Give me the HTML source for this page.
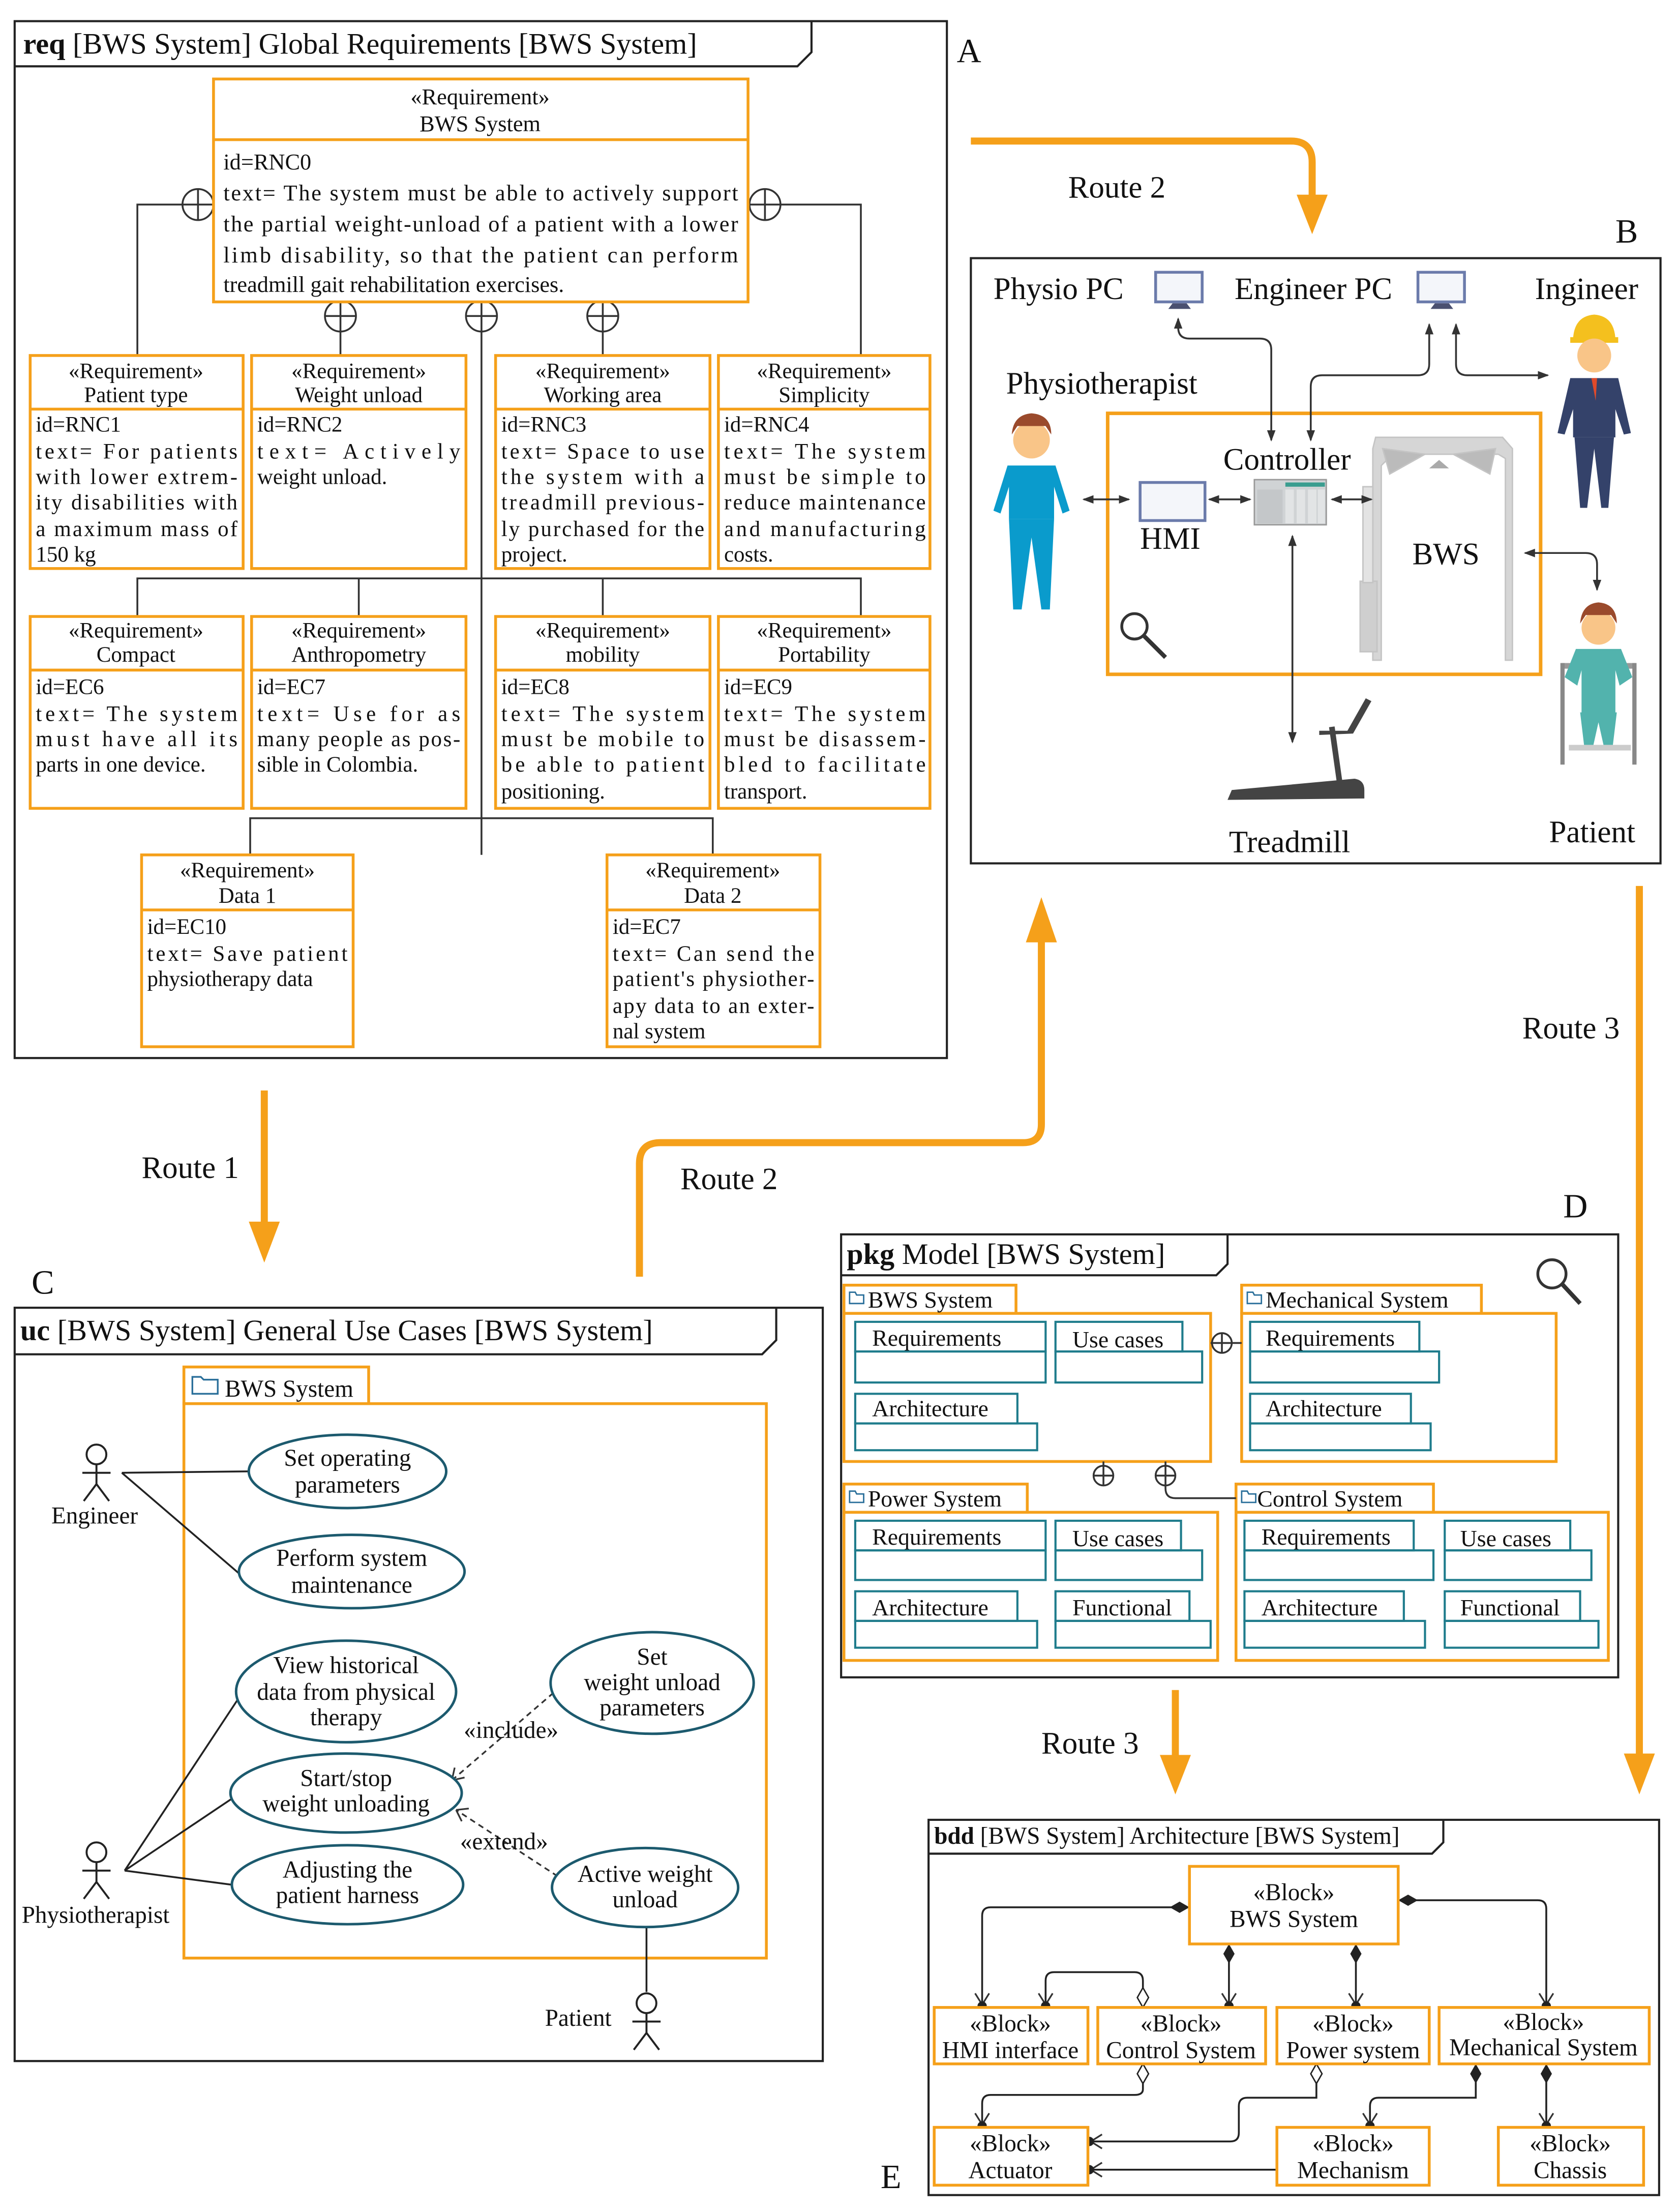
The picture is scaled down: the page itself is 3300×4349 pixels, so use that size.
<!DOCTYPE html>
<html><head><meta charset="utf-8"><style>
html,body{margin:0;padding:0;background:#fff;}
svg{display:block;}
text{font-family:"Liberation Serif",serif;fill:#111;}
</style></head><body>
<svg width="3300" height="4349" viewBox="0 0 1189 1568" xmlns="http://www.w3.org/2000/svg">
<defs>
<marker id="ab" markerWidth="8" markerHeight="8" refX="7" refY="4" orient="auto" markerUnits="userSpaceOnUse"><path d="M0,1 L8,4 L0,7 z" fill="#333"/></marker>
<marker id="as" markerWidth="8" markerHeight="8" refX="1" refY="4" orient="auto" markerUnits="userSpaceOnUse"><path d="M8,1 L0,4 L8,7 z" fill="#333"/></marker>
<marker id="ot" markerWidth="14" markerHeight="14" refX="12" refY="7" orient="auto" markerUnits="userSpaceOnUse"><path d="M2,2 L10,7 L2,12" fill="none" stroke="#333" stroke-width="1.2"/><circle cx="11" cy="7" r="3.3" fill="#222"/></marker>
<marker id="dfs" markerWidth="16" markerHeight="10" refX="1" refY="5" orient="auto" markerUnits="userSpaceOnUse"><path d="M1,5 L8,1 L15,5 L8,9 z" fill="#222"/></marker>
<marker id="dos" markerWidth="16" markerHeight="10" refX="1" refY="5" orient="auto" markerUnits="userSpaceOnUse"><path d="M1,5 L8,1 L15,5 L8,9 z" fill="#fff" stroke="#222" stroke-width="1"/></marker>
</defs>
<rect width="1189" height="1568" fill="#fff"/>

<!-- ================= PANEL A ================= -->
<g stroke="#222" fill="none" stroke-width="1.5">
<rect x="10" y="15" width="661" height="735"/>
<path d="M10,47 H565 L575,37 V15"/>
</g>
<text x="16" y="38" font-size="21"><tspan font-weight="bold">req</tspan> [BWS System] Global Requirements [BWS System]</text>
<text x="678" y="44" font-size="24">A</text>

<g stroke="#333" stroke-width="1.3" fill="none">
<path d="M129,145 H97 V252"/>
<path d="M553,145 H610 V252"/>
<path d="M241,235 V252"/>
<path d="M427,235 V252"/>
<path d="M341,235 V606"/>
<path d="M97,437 V410 H610 V437"/>
<path d="M254,410 V437"/>
<path d="M427,410 V437"/>
<path d="M177,606 V580 H505 V606"/>
</g>
<g stroke="#333" stroke-width="1.3" fill="#fff">
<circle cx="140" cy="145" r="11"/><path d="M129,145 H151 M140,134 V156"/>
<circle cx="542" cy="145" r="11"/><path d="M531,145 H553 M542,134 V156"/>
<circle cx="241" cy="224" r="11"/><path d="M230,224 H252 M241,213 V235"/>
<circle cx="341" cy="224" r="11"/><path d="M330,224 H352 M341,213 V235"/>
<circle cx="427" cy="224" r="11"/><path d="M416,224 H438 M427,213 V235"/>
</g>

<g stroke="#f5a01a" stroke-width="2" fill="#fff">
<rect x="151" y="56" width="379" height="158"/>
<rect x="21" y="252" width="151" height="151"/>
<rect x="178" y="252" width="152" height="151"/>
<rect x="351" y="252" width="152" height="151"/>
<rect x="509" y="252" width="150" height="151"/>
<rect x="21" y="437" width="151" height="136"/>
<rect x="178" y="437" width="152" height="136"/>
<rect x="351" y="437" width="152" height="136"/>
<rect x="509" y="437" width="150" height="136"/>
<rect x="100" y="606" width="150" height="136"/>
<rect x="430" y="606" width="151" height="136"/>
</g>
<g stroke="#f5a01a" stroke-width="2">
<path d="M151,99 H530"/>
<path d="M21,290 H172 M178,290 H330 M351,290 H503 M509,290 H659"/>
<path d="M21,475 H172 M178,475 H330 M351,475 H503 M509,475 H659"/>
<path d="M100,645 H250 M430,645 H581"/>
</g>
<g font-size="16" text-anchor="middle">
<text x="340" y="74">«Requirement»</text><text x="340" y="93">BWS System</text>
</g>
<g font-size="16">
<text x="158" y="120">id=RNC0</text>
<text x="158" y="142" textLength="365" lengthAdjust="spacing">text= The system must be able to actively support</text>
<text x="158" y="164" textLength="365" lengthAdjust="spacing">the partial weight-unload of a patient with a lower</text>
<text x="158" y="186" textLength="365" lengthAdjust="spacing">limb disability, so that the patient can perform</text>
<text x="158" y="207">treadmill gait rehabilitation exercises.</text>
</g>
<g font-size="15.5" text-anchor="middle">
<text x="96" y="268">«Requirement»</text><text x="96" y="285">Patient type</text>
<text x="254" y="268">«Requirement»</text><text x="254" y="285">Weight unload</text>
<text x="427" y="268">«Requirement»</text><text x="427" y="285">Working area</text>
<text x="584" y="268">«Requirement»</text><text x="584" y="285">Simplicity</text>
<text x="96" y="452">«Requirement»</text><text x="96" y="469">Compact</text>
<text x="254" y="452">«Requirement»</text><text x="254" y="469">Anthropometry</text>
<text x="427" y="452">«Requirement»</text><text x="427" y="469">mobility</text>
<text x="584" y="452">«Requirement»</text><text x="584" y="469">Portability</text>
<text x="175" y="622">«Requirement»</text><text x="175" y="640">Data 1</text>
<text x="505" y="622">«Requirement»</text><text x="505" y="640">Data 2</text>
</g>
<g font-size="15.5">
<text x="25" y="306">id=RNC1</text>
<text x="25" y="325" textLength="143" lengthAdjust="spacing">text= For patients</text>
<text x="25" y="343" textLength="143" lengthAdjust="spacing">with lower extrem-</text>
<text x="25" y="361" textLength="143" lengthAdjust="spacing">ity disabilities with</text>
<text x="25" y="380" textLength="143" lengthAdjust="spacing">a maximum mass of</text>
<text x="25" y="398">150 kg</text>

<text x="182" y="306">id=RNC2</text>
<text x="182" y="325" textLength="144" lengthAdjust="spacing">text=      Actively</text>
<text x="182" y="343">weight unload.</text>

<text x="355" y="306">id=RNC3</text>
<text x="355" y="325" textLength="144" lengthAdjust="spacing">text= Space to use</text>
<text x="355" y="343" textLength="144" lengthAdjust="spacing">the system with a</text>
<text x="355" y="361" textLength="144" lengthAdjust="spacing">treadmill previous-</text>
<text x="355" y="380" textLength="144" lengthAdjust="spacing">ly purchased for the</text>
<text x="355" y="398">project.</text>

<text x="513" y="306">id=RNC4</text>
<text x="513" y="325" textLength="143" lengthAdjust="spacing">text= The system</text>
<text x="513" y="343" textLength="143" lengthAdjust="spacing">must be simple to</text>
<text x="513" y="361" textLength="143" lengthAdjust="spacing">reduce maintenance</text>
<text x="513" y="380" textLength="143" lengthAdjust="spacing">and manufacturing</text>
<text x="513" y="398">costs.</text>

<text x="25" y="492">id=EC6</text>
<text x="25" y="511" textLength="143" lengthAdjust="spacing">text= The system</text>
<text x="25" y="529" textLength="143" lengthAdjust="spacing">must have all its</text>
<text x="25" y="547">parts in one device.</text>

<text x="182" y="492">id=EC7</text>
<text x="182" y="511" textLength="144" lengthAdjust="spacing">text= Use for as</text>
<text x="182" y="529" textLength="144" lengthAdjust="spacing">many people as pos-</text>
<text x="182" y="547">sible in Colombia.</text>

<text x="355" y="492">id=EC8</text>
<text x="355" y="511" textLength="144" lengthAdjust="spacing">text= The system</text>
<text x="355" y="529" textLength="144" lengthAdjust="spacing">must be mobile to</text>
<text x="355" y="547" textLength="144" lengthAdjust="spacing">be able to patient</text>
<text x="355" y="566">positioning.</text>

<text x="513" y="492">id=EC9</text>
<text x="513" y="511" textLength="143" lengthAdjust="spacing">text= The system</text>
<text x="513" y="529" textLength="143" lengthAdjust="spacing">must be disassem-</text>
<text x="513" y="547" textLength="143" lengthAdjust="spacing">bled to facilitate</text>
<text x="513" y="566">transport.</text>

<text x="104" y="662">id=EC10</text>
<text x="104" y="681" textLength="142" lengthAdjust="spacing">text= Save patient</text>
<text x="104" y="699">physiotherapy data</text>

<text x="434" y="662">id=EC7</text>
<text x="434" y="681" textLength="143" lengthAdjust="spacing">text= Can send the</text>
<text x="434" y="699" textLength="143" lengthAdjust="spacing">patient's physiother-</text>
<text x="434" y="718" textLength="143" lengthAdjust="spacing">apy data to an exter-</text>
<text x="434" y="736">nal system</text>
</g>

<!-- ================= ROUTES ================= -->
<g stroke="#f5a01a" stroke-width="5" fill="none">
<path d="M688,100 H915 Q930,100 930,115 V142"/>
<path d="M1162,628 V1245"/>
<path d="M187,773 V870"/>
<path d="M453,905 V825 Q453,810 468,810 H725 Q738,810 738,797 V665"/>
<path d="M833,1198 V1248"/>
</g>
<g fill="#f5a01a">
<path d="M919,138 L941,138 L930,166 z"/>
<path d="M1151,1243 L1173,1243 L1162,1272 z"/>
<path d="M176,866 L198,866 L187,895 z"/>
<path d="M727,668 L749,668 L738,636 z"/>
<path d="M822,1244 L844,1244 L833,1272 z"/>
</g>
<g font-size="22">
<text x="757" y="140">Route 2</text>
<text x="1079" y="736">Route 3</text>
<text x="100" y="835">Route 1</text>
<text x="482" y="843">Route 2</text>
<text x="738" y="1243">Route 3</text>
</g>

<!-- ================= PANEL B ================= -->
<rect x="688" y="183" width="489" height="429" fill="none" stroke="#222" stroke-width="1.5"/>
<text x="1145" y="172" font-size="24">B</text>
<rect x="785" y="293" width="307" height="185" fill="none" stroke="#f5a01a" stroke-width="2.5"/>
<g font-size="22">
<text x="704" y="212">Physio PC</text>
<text x="875" y="212">Engineer PC</text>
<text x="1088" y="212">Ingineer</text>
<text x="713" y="279">Physiotherapist</text>
<text x="867" y="333">Controller</text>
<text x="808" y="389">HMI</text>
<text x="1001" y="400">BWS</text>
<text x="871" y="604">Treadmill</text>
<text x="1098" y="597">Patient</text>
</g>
<!-- monitors -->
<g>
<rect x="819" y="193" width="33" height="21" fill="#f4f6fa" stroke="#6b7bab" stroke-width="2"/>
<path d="M831,215 h10 l3,4 h-16 z" fill="#4a5070"/>
<rect x="1005" y="193" width="33" height="21" fill="#f4f6fa" stroke="#6b7bab" stroke-width="2"/>
<path d="M1017,215 h10 l3,4 h-16 z" fill="#4a5070"/>
<rect x="808" y="342" width="46" height="27" fill="#f4f6fa" stroke="#6b7bab" stroke-width="2"/>
</g>
<!-- controller -->
<g>
<rect x="889" y="340" width="51" height="32" fill="#d0d3d5" stroke="#999"/>
<rect x="891" y="347" width="18" height="24" fill="#c4c7c9"/>
<rect x="911" y="347" width="6" height="24" fill="#e2e4e5"/><rect x="919" y="347" width="6" height="24" fill="#e2e4e5"/><rect x="927" y="347" width="6" height="24" fill="#e2e4e5"/><rect x="934" y="347" width="5" height="24" fill="#e2e4e5"/>
<rect x="911" y="342" width="28" height="3" fill="#3a9d8f"/>
</g>
<!-- BWS frame -->
<g fill="#d6d6d6" stroke="#c4c4c4">
<path d="M975,310 H1065 L1072,318 V468 H1067 V325 L1062,322 H987 L979,330 V468 H973 V318 z"/>
<path d="M980,318 L1010,322 L985,336 z" fill="#bbb"/>
<path d="M1060,318 L1030,322 L1056,336 z" fill="#bbb"/>
<rect x="964" y="412" width="12" height="50" fill="#cfcfcf"/>
<rect x="966" y="345" width="7" height="68" fill="#e3e3e3"/>
</g>
<path d="M1013,332 L1020,326 L1027,332 z" fill="#aaa"/>
<!-- treadmill -->
<g fill="#444">
<path d="M870,567 L873,560 L960,552 Q967,553 967,560 L967,566 z"/>
<rect x="945" y="515" width="4" height="44" transform="rotate(-8 947 537)"/>
<path d="M935,518 L955,518 L968,495 L972,497 L959,520 L935,521 z"/>
</g>
<!-- physiotherapist -->
<g>
<circle cx="731" cy="312" r="13" fill="#f9c588"/>
<path d="M717,308 Q718,294 731,293 Q745,294 745,308 L741,302 L721,302 z" fill="#9a4a2c"/>
<path d="M714,330 H748 L758,362 L753,364 L747,345 V368 H715 V345 L709,364 L704,362 z" fill="#0a9bcc"/>
<path d="M715,368 H747 L744,432 H738 L731,381 L724,432 H718 z" fill="#0a9bcc"/>
</g>
<!-- engineer -->
<g>
<path d="M1115,240 Q1116,224 1130,223 Q1144,224 1145,240 z" fill="#f4c01e"/>
<rect x="1113" y="239" width="34" height="4" fill="#f4c01e"/>
<circle cx="1130" cy="252" r="12" fill="#f9c588"/>
<path d="M1113,268 H1147 L1156,307 L1151,308 L1145,290 V310 H1115 V290 L1109,308 L1104,307 z" fill="#34426a"/>
<path d="M1128,268 L1132,268 L1131,284 z" fill="#e04a2a"/>
<path d="M1116,310 H1144 L1140,360 H1135 L1130,318 L1125,360 H1120 z" fill="#34426a"/>
</g>
<!-- patient -->
<g>
<circle cx="1133" cy="445" r="12" fill="#f9c588"/>
<path d="M1120,442 Q1121,428 1133,427 Q1146,428 1146,442 L1142,436 L1124,436 z" fill="#9a4a2c"/>
<rect x="1107" y="470" width="52" height="4" fill="#999"/>
<rect x="1106" y="470" width="3" height="72" fill="#888"/>
<rect x="1157" y="470" width="3" height="72" fill="#888"/>
<path d="M1117,460 H1149 L1157,480 L1148,486 L1145,475 V510 H1121 V475 L1118,486 L1109,480 z" fill="#52b3ad"/>
<path d="M1120,505 H1146 L1143,530 H1137 L1133,512 L1129,530 H1123 z" fill="#52b3ad"/>
<rect x="1112" y="528" width="44" height="4" fill="#ccc"/>
</g>
<!-- magnifier -->
<g fill="none" stroke="#333" stroke-width="2"><circle cx="804" cy="444" r="9"/><path d="M811,451 L826,466" stroke-width="3"/></g>
<!-- B arrows -->
<g stroke="#333" stroke-width="1.3" fill="none">
<path d="M835,226 V232 Q835,240 843,240 H893 Q901,240 901,248 V312" marker-start="url(#as)" marker-end="url(#ab)"/>
<path d="M1013,230 V258 Q1013,266 1005,266 H937 Q929,266 929,274 V312" marker-start="url(#as)" marker-end="url(#ab)"/>
<path d="M1032,230 V258 Q1032,266 1040,266 H1097" marker-start="url(#as)" marker-end="url(#ab)"/>
<path d="M768,354 H800" marker-start="url(#as)" marker-end="url(#ab)"/>
<path d="M857,354 H886" marker-start="url(#as)" marker-end="url(#ab)"/>
<path d="M944,354 H972" marker-start="url(#as)" marker-end="url(#ab)"/>
<path d="M916,380 V526" marker-start="url(#as)" marker-end="url(#ab)"/>
<path d="M1081,392 H1124 Q1132,392 1132,400 V418" marker-start="url(#as)" marker-end="url(#ab)"/>
</g>

<!-- ================= PANEL C ================= -->
<g stroke="#222" fill="none" stroke-width="1.5">
<rect x="10" y="927" width="573" height="534"/>
<path d="M10,960 H540 L550,950 V927"/>
</g>
<text x="22" y="917" font-size="24">C</text>
<text x="14" y="950" font-size="21"><tspan font-weight="bold">uc</tspan> [BWS System] General Use Cases [BWS System]</text>
<g stroke="#f5a01a" stroke-width="2" fill="none">
<rect x="130" y="969" width="131" height="26"/>
<rect x="130" y="995" width="413" height="393"/>
</g>
<path d="M136,976 h6 l2,2 h10 v10 h-18 z" fill="none" stroke="#2a6f9a" stroke-width="1.2"/>
<text x="159" y="990" font-size="17">BWS System</text>
<!-- actors -->
<g stroke="#222" stroke-width="1.4" fill="#fff">
<circle cx="68" cy="1031" r="7"/><path d="M68,1038 V1052 M58,1044 H78 M68,1052 L59,1064 M68,1052 L77,1064"/>
<circle cx="68" cy="1313" r="7"/><path d="M68,1320 V1334 M58,1326 H78 M68,1334 L59,1346 M68,1334 L77,1346"/>
<circle cx="458" cy="1420" r="7"/><path d="M458,1427 V1441 M448,1433 H468 M458,1441 L449,1453 M458,1441 L467,1453"/>
</g>
<g font-size="17">
<text x="36" y="1080">Engineer</text>
<text x="15" y="1363">Physiotherapist</text>
<text x="386" y="1436">Patient</text>
</g>
<g stroke="#222" stroke-width="1.3" fill="none">
<path d="M86,1044 L177,1043"/>
<path d="M86,1044 L171,1117"/>
<path d="M88,1326 L168,1205"/>
<path d="M88,1326 L164,1275"/>
<path d="M88,1326 L164,1336"/>
<path d="M458,1365 V1412"/>
</g>
<g stroke="#333" stroke-width="1.2" fill="none" stroke-dasharray="4,3">
<path d="M392,1200 L320,1262"/>
<path d="M395,1330 L323,1283"/>
</g>
<g stroke="#333" stroke-width="1.2" fill="none">
<path d="M320,1262 l9,-2 M320,1262 l2,-9"/>
<path d="M323,1283 l4,8 M323,1283 l9,-1"/>
</g>
<g stroke="#1c5a6e" stroke-width="1.8" fill="#fff">
<ellipse cx="246" cy="1043" rx="70" ry="26"/>
<ellipse cx="249" cy="1114" rx="80" ry="26"/>
<ellipse cx="245" cy="1199" rx="78" ry="36"/>
<ellipse cx="245" cy="1271" rx="82" ry="28"/>
<ellipse cx="246" cy="1336" rx="82" ry="28"/>
<ellipse cx="462" cy="1193" rx="72" ry="36"/>
<ellipse cx="457" cy="1338" rx="66" ry="28"/>
</g>
<g font-size="17" text-anchor="middle">
<text x="246" y="1039">Set operating</text><text x="246" y="1058">parameters</text>
<text x="249" y="1110">Perform system</text><text x="249" y="1129">maintenance</text>
<text x="245" y="1186">View historical</text><text x="245" y="1205">data from physical</text><text x="245" y="1223">therapy</text>
<text x="245" y="1266">Start/stop</text><text x="245" y="1284">weight unloading</text>
<text x="246" y="1331">Adjusting the</text><text x="246" y="1349">patient harness</text>
<text x="462" y="1180">Set</text><text x="462" y="1198">weight unload</text><text x="462" y="1216">parameters</text>
<text x="457" y="1334">Active weight</text><text x="457" y="1352">unload</text>
<text x="362" y="1232">«include»</text>
<text x="357" y="1311">«extend»</text>
</g>

<!-- ================= PANEL D ================= -->
<g stroke="#222" fill="none" stroke-width="1.5">
<rect x="596" y="875" width="551" height="314"/>
<path d="M596,904 H862 L870,896 V875"/>
</g>
<text x="1108" y="863" font-size="24">D</text>
<text x="600" y="896" font-size="21"><tspan font-weight="bold">pkg</tspan> Model [BWS System]</text>
<g fill="none" stroke="#333" stroke-width="2"><circle cx="1100" cy="903" r="10"/><path d="M1107,910 L1120,924" stroke-width="3"/></g>
<g stroke="#f5a01a" stroke-width="2" fill="none">
<rect x="598" y="911" width="122" height="20"/><rect x="598" y="931" width="260" height="105"/>
<rect x="880" y="911" width="170" height="20"/><rect x="880" y="931" width="223" height="105"/>
<rect x="598" y="1052" width="130" height="20"/><rect x="598" y="1072" width="265" height="105"/>
<rect x="876" y="1052" width="140" height="20"/><rect x="876" y="1072" width="264" height="105"/>
</g>
<g stroke="#1f7c8c" stroke-width="1.5" fill="none">
<rect x="606" y="937" width="135" height="21"/><rect x="606" y="958" width="135" height="22"/>
<rect x="748" y="937" width="90" height="21"/><rect x="748" y="958" width="104" height="22"/>
<rect x="606" y="988" width="115" height="21"/><rect x="606" y="1009" width="129" height="19"/>
<rect x="886" y="937" width="120" height="21"/><rect x="886" y="958" width="134" height="22"/>
<rect x="886" y="988" width="114" height="21"/><rect x="886" y="1009" width="128" height="19"/>
<rect x="606" y="1078" width="135" height="21"/><rect x="606" y="1099" width="135" height="21"/>
<rect x="748" y="1078" width="89" height="21"/><rect x="748" y="1099" width="104" height="21"/>
<rect x="606" y="1128" width="115" height="21"/><rect x="606" y="1149" width="129" height="19"/>
<rect x="748" y="1128" width="95" height="21"/><rect x="748" y="1149" width="110" height="19"/>
<rect x="882" y="1078" width="120" height="21"/><rect x="882" y="1099" width="134" height="21"/>
<rect x="1024" y="1078" width="89" height="21"/><rect x="1024" y="1099" width="104" height="21"/>
<rect x="882" y="1128" width="113" height="21"/><rect x="882" y="1149" width="128" height="19"/>
<rect x="1024" y="1128" width="96" height="21"/><rect x="1024" y="1149" width="109" height="19"/>
</g>
<g font-size="16.5">
<text x="615" y="927">BWS System</text><text x="897" y="927">Mechanical System</text>
<text x="615" y="1068">Power System</text><text x="891" y="1068">Control System</text>
<text x="618" y="954">Requirements</text><text x="760" y="955">Use cases</text><text x="618" y="1004">Architecture</text>
<text x="897" y="954">Requirements</text><text x="897" y="1004">Architecture</text>
<text x="618" y="1095">Requirements</text><text x="760" y="1096">Use cases</text><text x="618" y="1145">Architecture</text><text x="760" y="1145">Functional</text>
<text x="894" y="1095">Requirements</text><text x="1035" y="1096">Use cases</text><text x="894" y="1145">Architecture</text><text x="1035" y="1145">Functional</text>
</g>
<g stroke="#2a6f9a" stroke-width="1" fill="none">
<path d="M602,916 h4 l1,2 h5 v6 h-10 z"/><path d="M884,916 h4 l1,2 h5 v6 h-10 z"/>
<path d="M602,1057 h4 l1,2 h5 v6 h-10 z"/><path d="M880,1057 h4 l1,2 h5 v6 h-10 z"/>
</g>
<g stroke="#333" stroke-width="1.3" fill="none">
<path d="M858,952 H880"/>
<path d="M782,1036 V1052"/>
<path d="M826,1036 V1055 Q826,1062 833,1062 H876"/>
</g>
<g stroke="#333" stroke-width="1.3" fill="#fff">
<circle cx="866" cy="952" r="7"/><path d="M859,952 H873 M866,945 V959"/>
<circle cx="782" cy="1046" r="7"/><path d="M775,1046 H789 M782,1039 V1053"/>
<circle cx="826" cy="1046" r="7"/><path d="M819,1046 H833 M826,1039 V1053"/>
</g>

<!-- ================= PANEL E ================= -->
<g stroke="#222" fill="none" stroke-width="1.5">
<rect x="658" y="1290" width="518" height="266"/>
<path d="M658,1314 H1015 L1023,1306 V1290"/>
</g>
<text x="624" y="1551" font-size="24">E</text>
<text x="662" y="1307" font-size="17"><tspan font-weight="bold">bdd</tspan> [BWS System] Architecture [BWS System]</text>
<g stroke="#222" stroke-width="1.3" fill="none">
<path d="M843,1352 H702 Q696,1352 696,1358 V1423" marker-start="url(#dfs)" marker-end="url(#ot)"/>
<path d="M991,1347 H1090 Q1096,1347 1096,1353 V1423" marker-start="url(#dfs)" marker-end="url(#ot)"/>
<path d="M871,1378 V1423" marker-start="url(#dfs)" marker-end="url(#ot)"/>
<path d="M961,1378 V1423" marker-start="url(#dfs)" marker-end="url(#ot)"/>
<path d="M810,1423 V1404 Q810,1398 804,1398 H747 Q741,1398 741,1404 V1423" marker-start="url(#dos)" marker-end="url(#ot)"/>
<path d="M810,1463 V1481 Q810,1485 804,1485 H702 Q696,1485 696,1491 V1508" marker-start="url(#dos)" marker-end="url(#ot)"/>
<path d="M933,1463 V1487 H884 Q878,1487 878,1493 V1512 Q878,1518 872,1518 H771" marker-start="url(#dos)" marker-end="url(#ot)"/>
<path d="M905,1538 H771" marker-end="url(#ot)"/>
<path d="M1046,1463 V1487 H977 Q971,1487 971,1493 V1508" marker-start="url(#dfs)" marker-end="url(#ot)"/>
<path d="M1096,1463 V1508" marker-start="url(#dfs)" marker-end="url(#ot)"/>
</g>
<g stroke="#f5a01a" stroke-width="2" fill="#fff">
<rect x="843" y="1323" width="148" height="55"/>
<rect x="662" y="1423" width="109" height="40"/>
<rect x="778" y="1423" width="119" height="40"/>
<rect x="905" y="1423" width="108" height="40"/>
<rect x="1020" y="1423" width="149" height="40"/>
<rect x="662" y="1508" width="109" height="41"/>
<rect x="905" y="1508" width="108" height="41"/>
<rect x="1062" y="1508" width="103" height="41"/>
</g>
<g font-size="17" text-anchor="middle">
<text x="917" y="1347">«Block»</text><text x="917" y="1366">BWS System</text>
<text x="716" y="1440">«Block»</text><text x="716" y="1459">HMI interface</text>
<text x="837" y="1440">«Block»</text><text x="837" y="1459">Control System</text>
<text x="959" y="1440">«Block»</text><text x="959" y="1459">Power system</text>
<text x="1094" y="1439">«Block»</text><text x="1094" y="1457">Mechanical System</text>
<text x="716" y="1525">«Block»</text><text x="716" y="1544">Actuator</text>
<text x="959" y="1525">«Block»</text><text x="959" y="1544">Mechanism</text>
<text x="1113" y="1525">«Block»</text><text x="1113" y="1544">Chassis</text>
</g>
</svg>
</body></html>
